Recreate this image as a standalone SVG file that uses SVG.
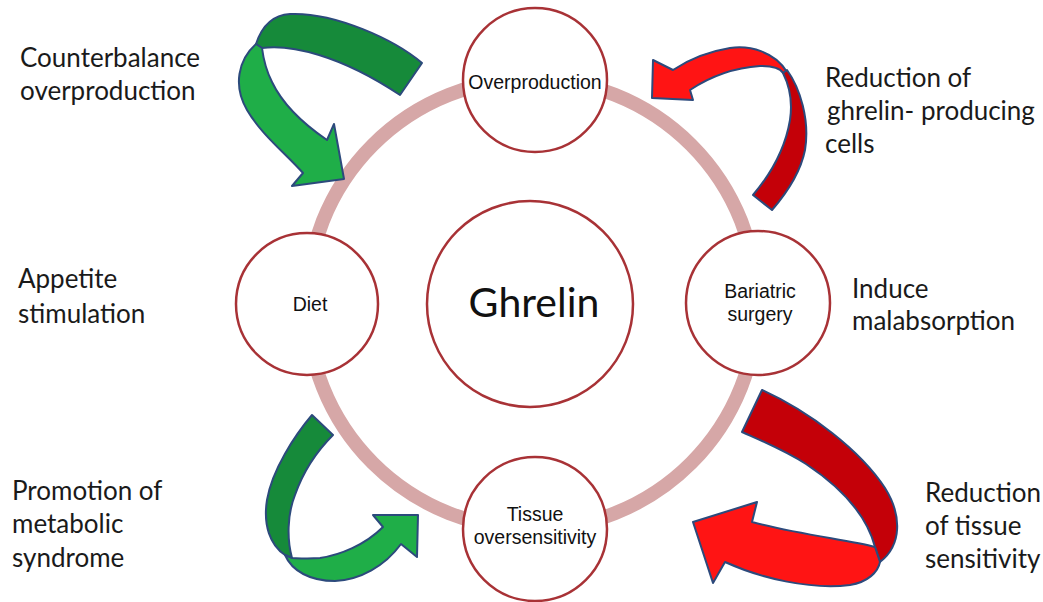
<svg xmlns="http://www.w3.org/2000/svg" width="1043" height="602" viewBox="0 0 1043 602">
<style>
.ring{fill:none;stroke:#d6a7a7;stroke-width:14}
.node{fill:#fff;stroke:#a83236;stroke-width:2.5}
.in{font-family:"Liberation Sans",Arial,sans-serif;font-size:19.5px;fill:#111;text-anchor:middle}
.lbl{font-family:Lato,"Open Sans",sans-serif;font-size:26px;fill:#1a1a1a}
.big{font-family:Lato,"Open Sans",sans-serif;font-size:41px;fill:#111;text-anchor:middle}
.ol{stroke:#2c4a7c;stroke-width:2;stroke-linejoin:round}
.gd{fill:#168a3a}.gl{fill:#1fae48}.rd{fill:#c40008}.rl{fill:#ff1414}
</style>
<rect width="1043" height="602" fill="#fff"/>
<g id="connectors">
<circle class="ring" cx="532" cy="304" r="225"/>
<g id="arrow-counterbalance">
<path class="gd ol" d="M422,63 C395,40 335,12 290,14 C272,15 262,26 256,44 L262,48 C290,44 340,55 400,95 Z"/>
<path class="gl ol" d="M256,44 C238,60 233,86 247,110 C261,134 285,153 303,173 L292,186 L344,179 L334,124 L327,140 C305,125 283,105 272,82 C265,68 263,56 262,48 Z"/>
</g>
<g id="arrow-reduction-cells">
<path class="rl ol" d="M787,72 C775,52 750,45 730,48 C705,52 688,60 673,70 L653,60 L652,98 L693,100 L690,90 C705,80 730,68 760,66 C772,66 780,68 783,73 Z"/>
<path class="rd ol" d="M787,70 C800,88 810,120 805,150 C800,175 785,195 772,210 L753,195 C770,175 785,150 790,120 C793,100 789,85 783,73 Z"/>
</g>
<g id="arrow-metabolic">
<path class="gd ol" d="M312,415 C295,435 272,470 267,500 C263,525 270,545 285,555 L292,558 C287,540 287,515 295,495 C303,472 318,450 333,435 Z"/>
<path class="gl ol" d="M285,555 C292,571 310,581 335,581 C360,580 385,566 401,544 L417,557 L418,515 L373,515 L383,527 C365,545 340,555 320,558 C305,559 296,558 292,558 Z"/>
</g>
<g id="arrow-reduction-tissue">
<path class="rd ol" d="M762,390 C810,412 860,450 885,488 C902,515 902,545 880,562 L875,547 C866,512 836,484 806,464 C784,450 762,441 742,432 Z"/>
<path class="rl ol" d="M875,547 C850,540 800,535 752,522 L757,502 L693,522 L713,583 L725,562 C760,578 810,590 850,585 C868,582 878,572 880,562 Z"/>
</g>
</g>
<g id="node-ghrelin"><circle class="node" cx="530" cy="304" r="103"/><text class="big" x="534" y="317">Ghrelin</text></g>
<g id="node-overproduction"><circle class="node" cx="535" cy="80" r="72"/><text class="in" x="535" y="89">Overproduction</text></g>
<g id="node-diet"><circle class="node" cx="307" cy="304" r="71"/><text class="in" x="310" y="311">Diet</text></g>
<g id="node-bariatric"><circle class="node" cx="758" cy="303" r="72"/><text class="in" x="760" y="298">Bariatric</text><text class="in" x="760" y="321">surgery</text></g>
<g id="node-tissue"><circle class="node" cx="535" cy="529" r="72"/><text class="in" x="535" y="521">Tissue</text><text class="in" x="535" y="544">oversensitivity</text></g>
<g id="labels">
<text class="lbl" x="20" y="67">Counterbalance</text>
<text class="lbl" x="20" y="100">overproduction</text>
<text class="lbl" x="825" y="87">Reduction of</text>
<text class="lbl" x="827" y="120">ghrelin- producing</text>
<text class="lbl" x="825" y="153">cells</text>
<text class="lbl" x="18" y="288">Appetite</text>
<text class="lbl" x="18" y="323">stimulation</text>
<text class="lbl" x="852" y="298">Induce</text>
<text class="lbl" x="852" y="330">malabsorption</text>
<text class="lbl" x="12" y="500">Promotion of</text>
<text class="lbl" x="12" y="533">metabolic</text>
<text class="lbl" x="12" y="567">syndrome</text>
<text class="lbl" x="925" y="502">Reduction</text>
<text class="lbl" x="925" y="535">of tissue</text>
<text class="lbl" x="925" y="568">sensitivity</text>
</g>
</svg>
